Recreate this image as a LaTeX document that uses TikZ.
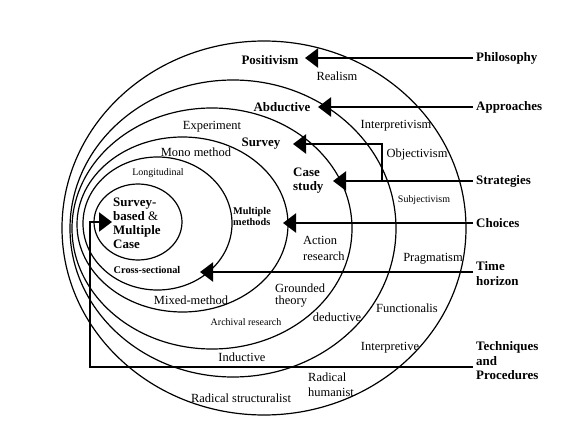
\documentclass[tikz,border=0pt]{standalone}
\usepackage{fontspec}
\setmainfont{Liberation Serif}
\usetikzlibrary{arrows.meta}
\begin{document}
\begin{tikzpicture}[x=1bp,y=-1bp,
  ring/.style={line width=1.2bp},
  conn/.style={line width=2.2bp,-{Triangle[length=13bp,width=19bp]}},
  lab/.style={inner sep=0pt,font=\fontsize{12.5}{15}\selectfont},
  labb/.style={inner sep=0pt,font=\fontsize{13}{14}\selectfont\bfseries},
  lsmall/.style={inner sep=0pt,font=\fontsize{10}{12}\selectfont},
  lsmallb/.style={inner sep=0pt,font=\fontsize{10.3}{11.5}\selectfont\bfseries},
  side/.style={inner xsep=3bp,inner ysep=0pt,anchor=west,align=left,font=\fontsize{13}{14.5}\selectfont\bfseries},
]
\useasboundingbox (0,0) rectangle (573,436);
% rings
\draw[ring] (264,228) ellipse [x radius=202,y radius=187];
\draw[ring] (233,228.5) ellipse [x radius=163,y radius=148.5];
\draw[ring] (212,228.5) ellipse [x radius=140,y radius=120.5];
\draw[ring] (182.5,224.5) ellipse [x radius=105.5,y radius=87.5];
\draw[ring] (157.5,223.5) ellipse [x radius=74.5,y radius=66.5];
\draw[ring] (138,222) ellipse [x radius=44,y radius=38];
% labels
\node[labb] (positivism) at (270,60) {Positivism};
\node[lab] (realism) at (337,76) {Realism};
\node[side] (philo) at (473,58) {Philosophy};
\node[labb] (abductive) at (282,107) {Abductive};
\node[side] (appr) at (473,107) {Approaches};
\node[lab] (experiment) at (212,127) {Experiment};
\node[lab] (interpretivism) at (396,126) {Interpretivism};
\node[labb] (survey) at (261,144) {Survey};
\node[lab] (mono) at (196,152) {Mono method};
\node[lab] (objectivism) at (417,155) {Objectivism};
\node[lsmall] (longit) at (158,173) {Longitudinal};
\node[labb,anchor=west,align=left] (case) at (293,181) {Case\\study};
\node[side] (strat) at (473,181) {Strategies};
\node[lsmall] (subj) at (424,200) {Subjectivism};
\node[labb,anchor=west,align=left] (sbm) at (113,223) {Survey-\\based \textmd{\&}\\Multiple\\Case};
\node[lsmallb,anchor=west,align=left] (multi) at (233,216.5) {Multiple\\methods};
\node[side] (choices) at (473,223) {Choices};
\node[lab,anchor=west,align=left,font=\fontsize{12.5}{16}\selectfont] (action) at (303,248) {Action\\research};
\node[lab] (prag) at (433,259) {Pragmatism};
\node[side] (time) at (473,273.5) {Time\\horizon};
\node[lsmallb] (cross) at (147,270) {Cross-sectional};
\node[lab] (mixed) at (191,300) {Mixed-method};
\node[lab,anchor=west,align=left,font=\fontsize{12.5}{13}\selectfont] (grounded) at (275,295.5) {Grounded\\theory};
\node[lab] (deductive) at (337,317) {deductive};
\node[lab] (functional) at (407,308) {Functionalis};
\node[lsmall] (archival) at (246,322) {Archival research};
\node[lab] (interpretive) at (390,348) {Interpretive};
\node[side] (tech) at (473,361) {Techniques\\and\\Procedures};
\node[lab] (inductive) at (242,357) {Inductive};
\node[lab,anchor=west,align=left] (radh) at (308,384.5) {Radical\\humanist};
\node[lab] (rads) at (241,398) {Radical structuralist};
% connectors
\coordinate (tphilo) at (305,58);
\draw[conn] (philo.west) -- (tphilo);
\coordinate (tappr) at (318,107);
\draw[conn] (appr.west) -- (tappr);
\coordinate (tcase) at (333,181);
\draw[conn] (strat.west) -- (tcase);
\coordinate (sbranch) at (382,181);
\coordinate (tsurvey) at (293,144);
\draw[conn] (sbranch) |- (tsurvey);
\coordinate (tchoices) at (283,223);
\draw[conn] (choices.west) -- (tchoices);
\coordinate (ttime) at (200,272);
\draw[conn] (time.west |- ttime) -- (ttime);
\coordinate (tcorner) at (90,367);
\coordinate (tsbm) at (112,222);
\draw[conn] (tech.west |- tcorner) -- (tcorner) |- (tsbm);
\end{tikzpicture}
\end{document}
